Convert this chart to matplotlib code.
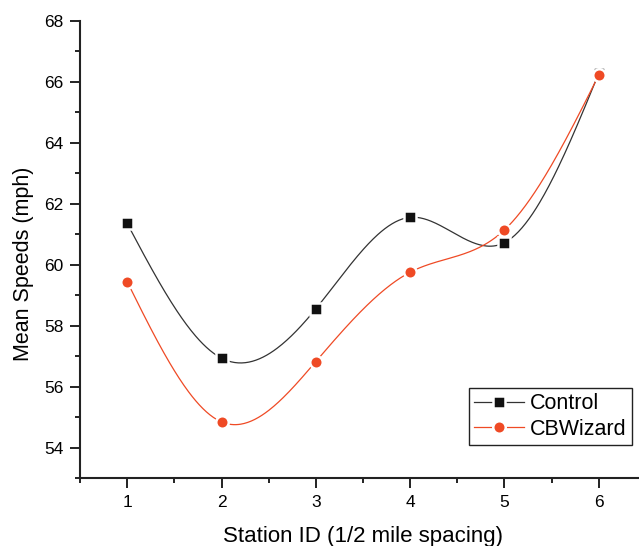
import numpy as np
import matplotlib
matplotlib.use("Agg")
import matplotlib.pyplot as plt
from matplotlib.ticker import MultipleLocator

stations = [1, 2, 3, 4, 5, 6]
control = [61.35, 56.93, 58.55, 61.55, 60.72, 66.28]
cbwizard = [59.44, 54.84, 56.82, 59.75, 61.14, 66.22]
series_names = ["Control", "CBWizard"]
x_ticks = [1, 2, 3, 4, 5, 6]
y_ticks = [54, 56, 58, 60, 62, 64, 66, 68]


def natural_spline(x, y, n=400):
    x = np.asarray(x, float)
    y = np.asarray(y, float)
    m = len(x)
    h = np.diff(x)
    A = np.zeros((m, m))
    b = np.zeros(m)
    A[0, 0] = 1
    A[-1, -1] = 1
    for i in range(1, m - 1):
        A[i, i - 1] = h[i - 1]
        A[i, i] = 2 * (h[i - 1] + h[i])
        A[i, i + 1] = h[i]
        b[i] = 3 * ((y[i + 1] - y[i]) / h[i] - (y[i] - y[i - 1]) / h[i - 1])
    c = np.linalg.solve(A, b)
    xs = np.linspace(x[0], x[-1], n)
    ys = np.empty_like(xs)
    for k, xv in enumerate(xs):
        i = min(np.searchsorted(x, xv, side="right") - 1, m - 2)
        dx = xv - x[i]
        bi = (y[i + 1] - y[i]) / h[i] - h[i] * (2 * c[i] + c[i + 1]) / 3
        di = (c[i + 1] - c[i]) / (3 * h[i])
        ys[k] = y[i] + bi * dx + c[i] * dx ** 2 + di * dx ** 3
    return xs, ys


plt.rcParams["font.family"] = ["Liberation Sans", "DejaVu Sans"]

fig = plt.figure(figsize=(6.39, 5.46), dpi=100)
ax = fig.add_axes([80 / 639, 1 - 478 / 546, 566 / 639, (478 - 20.7) / 546])

red = "#EF4A25"
blk = "#111111"

xs, ys = natural_spline(stations, control)
ax.plot(xs, ys, color="#333333", lw=0.9, zorder=2)
xs, ys = natural_spline(stations, cbwizard)
ax.plot(xs, ys, color=red, lw=0.9, zorder=2)

ax.plot(stations, control, ls="none", marker="s", ms=8.0, mfc=blk,
        mec="white", mew=1.8, zorder=3)
ax.plot(stations, cbwizard, ls="none", marker="o", ms=9.0, mfc=red,
        mec="white", mew=1.8, zorder=4)

h1, = ax.plot([], [], color="#333333", lw=0.9, marker="s", ms=8.0, mfc=blk,
              mec="white", mew=1.8)
h2, = ax.plot([], [], color=red, lw=0.9, marker="o", ms=9.0, mfc=red,
              mec="white", mew=1.8)

ax.set_xlim(0.5, 6.5)
ax.set_ylim(53, 68)
ax.set_xticks(x_ticks)
ax.set_yticks(y_ticks)
ax.xaxis.set_minor_locator(MultipleLocator(0.5))
ax.yaxis.set_minor_locator(MultipleLocator(1))

for s in ["top", "right"]:
    ax.spines[s].set_visible(False)
for s in ["left", "bottom"]:
    ax.spines[s].set_linewidth(1.5)
    ax.spines[s].set_color("#222222")

ax.tick_params(which="major", direction="out", length=7, width=1.4,
               labelsize=12.5, color="#222222", pad=5)
ax.tick_params(which="minor", direction="out", length=3.5, width=1.4,
               color="#222222")

ax.set_xlabel("Station ID (1/2 mile spacing)", fontsize=16, labelpad=12)
ax.set_ylabel("Mean Speeds (mph)", fontsize=15.5, labelpad=7)
ax.yaxis.label.set_y(0.469)

leg = fig.legend([h1, h2], series_names, loc="upper left",
                 bbox_to_anchor=(469 / 639, 1 - 388 / 546),
                 fontsize=15.5, frameon=True, fancybox=False,
                 edgecolor="#222222", framealpha=1, borderpad=0.25,
                 labelspacing=0.2, handlelength=2.3, handletextpad=0.3,
                 borderaxespad=0)
leg.get_frame().set_linewidth(1.0)

fig.savefig("out.png", dpi=100)
